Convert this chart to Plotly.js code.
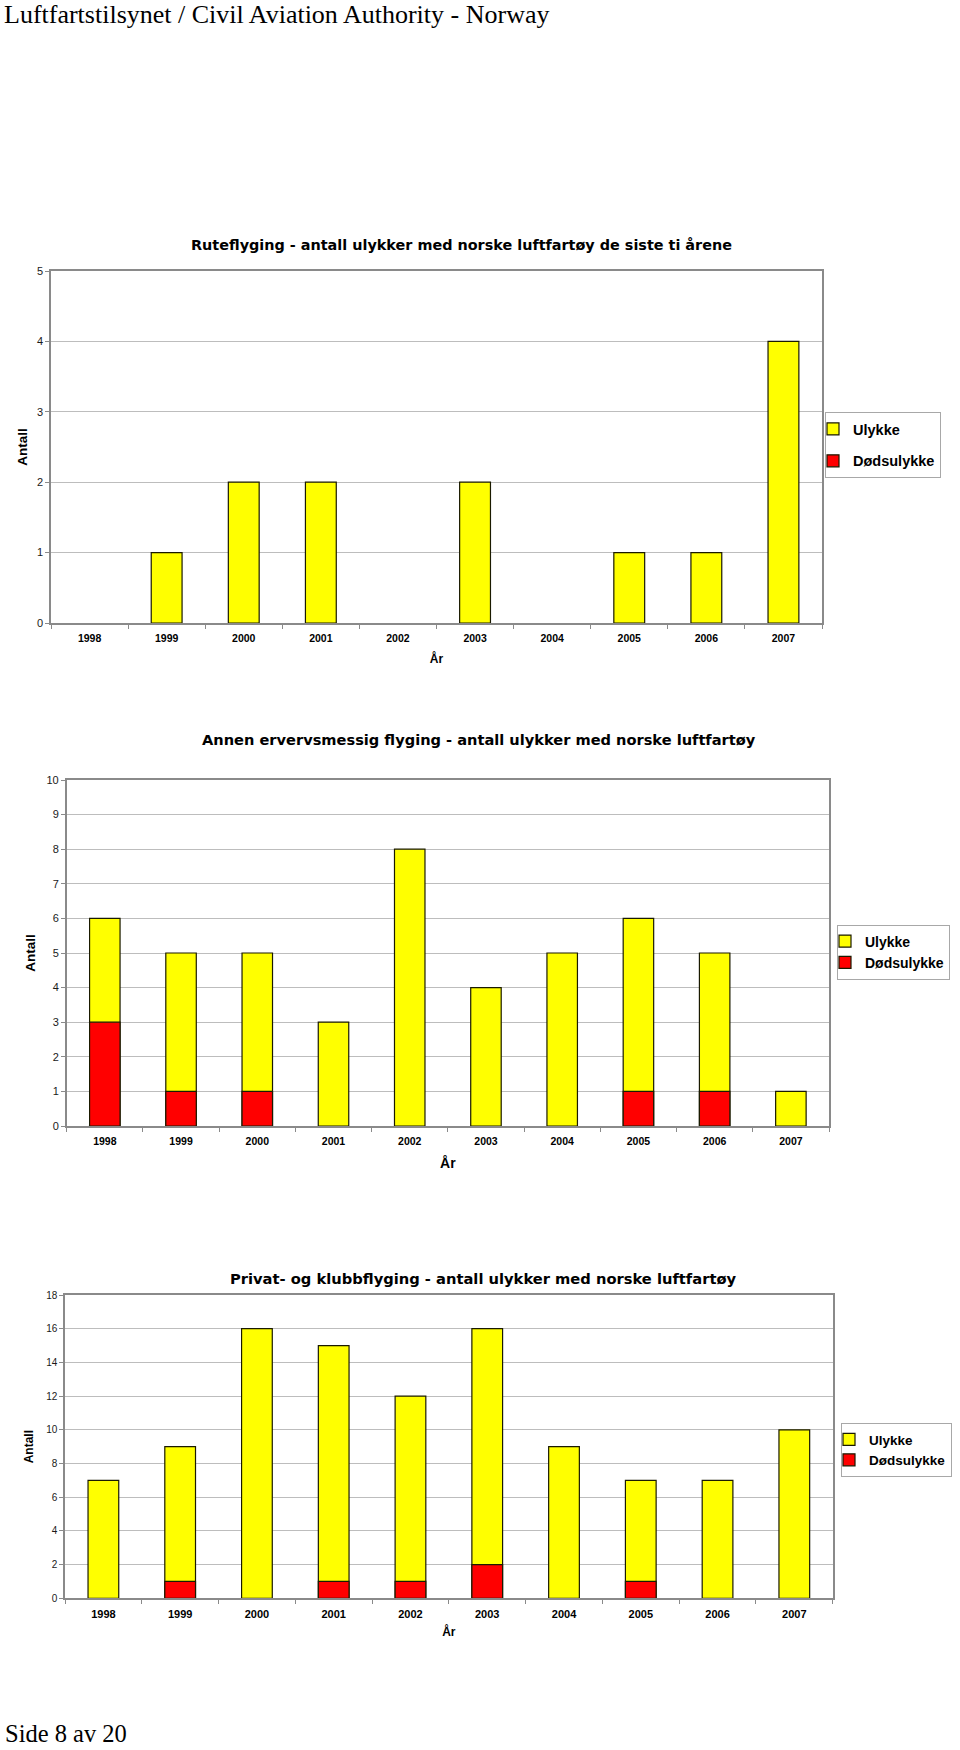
<!DOCTYPE html>
<html>
<head>
<meta charset="utf-8">
<script src="https://cdn.plot.ly/plotly-3.0.1.min.js"></script>
<style>
  html, body { margin: 0; padding: 0; background: #ffffff; }
  #chart { width: 960px; height: 1750px; }
</style>
</head>
<body>
<div id="chart"></div>
<script>
// ---- Data ----
const years = ['1998', '1999', '2000', '2001', '2002', '2003', '2004', '2005', '2006', '2007'];

const chartTitles = [
  'Ruteflyging - antall ulykker med norske luftfartøy de siste ti årene',
  'Annen ervervsmessig flyging - antall ulykker med norske luftfartøy',
  'Privat- og klubbflyging - antall ulykker med norske luftfartøy'
];
const seriesNames = ['Ulykke', 'Dødsulykke'];
const xTitle = 'År';
const yTitle = 'Antall';
const headerText = 'Luftfartstilsynet / Civil Aviation Authority - Norway';
const footerText = 'Side 8 av 20';

// Totals of accidents (top of each bar) and fatal accidents (red part)
const ruteUlykke      = [0, 1, 2, 2, 0, 2, 0, 1, 1, 4];
const ruteDodsulykke  = [0, 0, 0, 0, 0, 0, 0, 0, 0, 0];
const annenUlykke     = [6, 5, 5, 3, 8, 4, 5, 6, 5, 1];
const annenDodsulykke = [3, 1, 1, 0, 0, 0, 0, 1, 1, 0];
const privatUlykke    = [7, 9, 16, 15, 12, 16, 9, 7, 7, 10];
const privatDodsulykke= [0, 1, 0, 1, 1, 2, 0, 1, 0, 0];

const yMax   = [5, 10, 18];
const yDtick = [1, 1, 2];

// ---- Styling / layout ----
const W = 960, H = 1750;
const px = v => v / W;
const py = v => 1 - v / H;

const YELLOW = '#ffff00', RED = '#ff0000', OUTLINE = '#1a1a00';
const SANS = 'Liberation Sans, Arial, Helvetica, sans-serif';
const WIDE = 'DejaVu Sans, Verdana, sans-serif';
const SERIF = 'Liberation Serif, Times New Roman, serif';

const panels = [
  { ul: ruteUlykke,   dod: ruteDodsulykke,   ax: '',  dx: [51, 822],  dy: [271, 623],
    legend: { x: 825, yc: 445, size: 14.5, gap: 10 }, title: { x: 461, y: 245, size: 14.4 },
    xt: 12, yt: 13.5, ystand: 6, xstand: 11, xtick: 10.5, ytick: 11 },
  { ul: annenUlykke,  dod: annenDodsulykke,  ax: '2', dx: [66.7, 829], dy: [780, 1126],
    legend: { x: 837, yc: 952, size: 14, gap: 0 }, title: { x: 479, y: 739, size: 14.6 },
    xt: 14, yt: 13.5, ystand: 8, xstand: 12, xtick: 10.5, ytick: 11 },
  { ul: privatUlykke, dod: privatDodsulykke, ax: '3', dx: [65, 832.7], dy: [1295, 1598.3],
    legend: { x: 841, yc: 1450, size: 13.5, gap: 0 }, title: { x: 483, y: 1278, size: 14.7 },
    xt: 12, yt: 12, ystand: 10, xstand: 8, xtick: 11, ytick: 10 }
];

const data = [];
const layout = {
  width: W, height: H,
  margin: { l: 0, r: 0, t: 0, b: 0 },
  paper_bgcolor: '#ffffff', plot_bgcolor: '#ffffff',
  barmode: 'overlay',
  font: { family: SANS, size: 10, color: '#000000' },
  showlegend: true,
  annotations: []
};

// a count of zero draws no bar at all (as in the reference)
const barHeights = vals => vals.map(v => (v > 0 ? v : null));

panels.forEach((p, i) => {
  const xa = 'x' + p.ax, ya = 'y' + p.ax;
  const legId = 'legend' + p.ax;
  data.push({
    type: 'bar', name: seriesNames[0], x: years, y: barHeights(p.ul),
    xaxis: xa, yaxis: ya, legend: legId, legendgroup: 'g' + i + 'a',
    width: 0.4, showlegend: true,
    marker: { color: YELLOW, line: { color: OUTLINE, width: 1.2 } },
    hoverinfo: 'x+y'
  });
  data.push({
    type: 'bar', name: seriesNames[1], x: years, y: barHeights(p.dod),
    xaxis: xa, yaxis: ya, legend: legId, legendgroup: 'g' + i + 'b',
    width: 0.4, showlegend: true,
    marker: { color: RED, line: { color: OUTLINE, width: 1.2 } },
    hoverinfo: 'x+y'
  });

  layout['xaxis' + p.ax] = {
    domain: [px(p.dx[0]), px(p.dx[1])],
    anchor: ya,
    type: 'category',
    categoryorder: 'array', categoryarray: years,
    range: [-0.5, years.length - 0.5],
    showgrid: false, zeroline: false,
    showline: true, linecolor: '#8a8a8a', linewidth: 1.5, mirror: true,
    ticks: 'outside', tickson: 'boundaries', ticklen: 4, tickcolor: '#8a8a8a', tickwidth: 1,
    tickfont: { family: SANS, size: p.xtick, color: '#000000', weight: 'bold' },
    ticklabelstandoff: 5,
    automargin: false, fixedrange: true,
    title: { text: xTitle, font: { family: SANS, size: p.xt, weight: 'bold', color: '#000000' }, standoff: p.xstand }
  };
  layout['yaxis' + p.ax] = {
    domain: [py(p.dy[1]), py(p.dy[0])],
    anchor: xa,
    range: [0, yMax[i]], dtick: yDtick[i], tick0: 0,
    showgrid: true, gridcolor: '#bdbdbd', gridwidth: 1.2,
    zeroline: false,
    showline: true, linecolor: '#8a8a8a', linewidth: 1.5, mirror: true,
    ticks: 'outside', ticklen: 4, tickcolor: '#8a8a8a', tickwidth: 1,
    tickfont: { family: SANS, size: p.ytick, color: '#1a1a1a' },
    automargin: false, fixedrange: true,
    title: { text: yTitle, font: { family: SANS, size: p.yt, weight: 'bold', color: '#000000' }, standoff: p.ystand }
  };
  layout[legId] = {
    x: px(p.legend.x), xanchor: 'left',
    y: py(p.legend.yc), yanchor: 'middle',
    bgcolor: '#ffffff', bordercolor: '#a8a8a8', borderwidth: 1,
    font: { family: SANS, size: p.legend.size, color: '#000000', weight: 'bold' },
    traceorder: 'grouped', tracegroupgap: p.legend.gap,
    indentation: -13,
    itemclick: false, itemdoubleclick: false
  };
  layout.annotations.push({
    text: chartTitles[i], xref: 'paper', yref: 'paper',
    x: px(p.title.x), y: py(p.title.y), xanchor: 'center', yanchor: 'middle',
    showarrow: false,
    font: { family: WIDE, size: p.title.size, color: '#000000', weight: 'bold' }
  });
});

layout.annotations.push({
  text: headerText, xref: 'paper', yref: 'paper',
  x: px(2), y: py(14), xanchor: 'left', yanchor: 'middle', showarrow: false,
  font: { family: SERIF, size: 26, color: '#000000' }
});
layout.annotations.push({
  text: footerText, xref: 'paper', yref: 'paper',
  x: px(3), y: py(1733), xanchor: 'left', yanchor: 'middle', showarrow: false,
  font: { family: SERIF, size: 24.5, color: '#000000' }
});

Plotly.newPlot('chart', data, layout, { displayModeBar: false, responsive: false });
</script>
</body>
</html>
